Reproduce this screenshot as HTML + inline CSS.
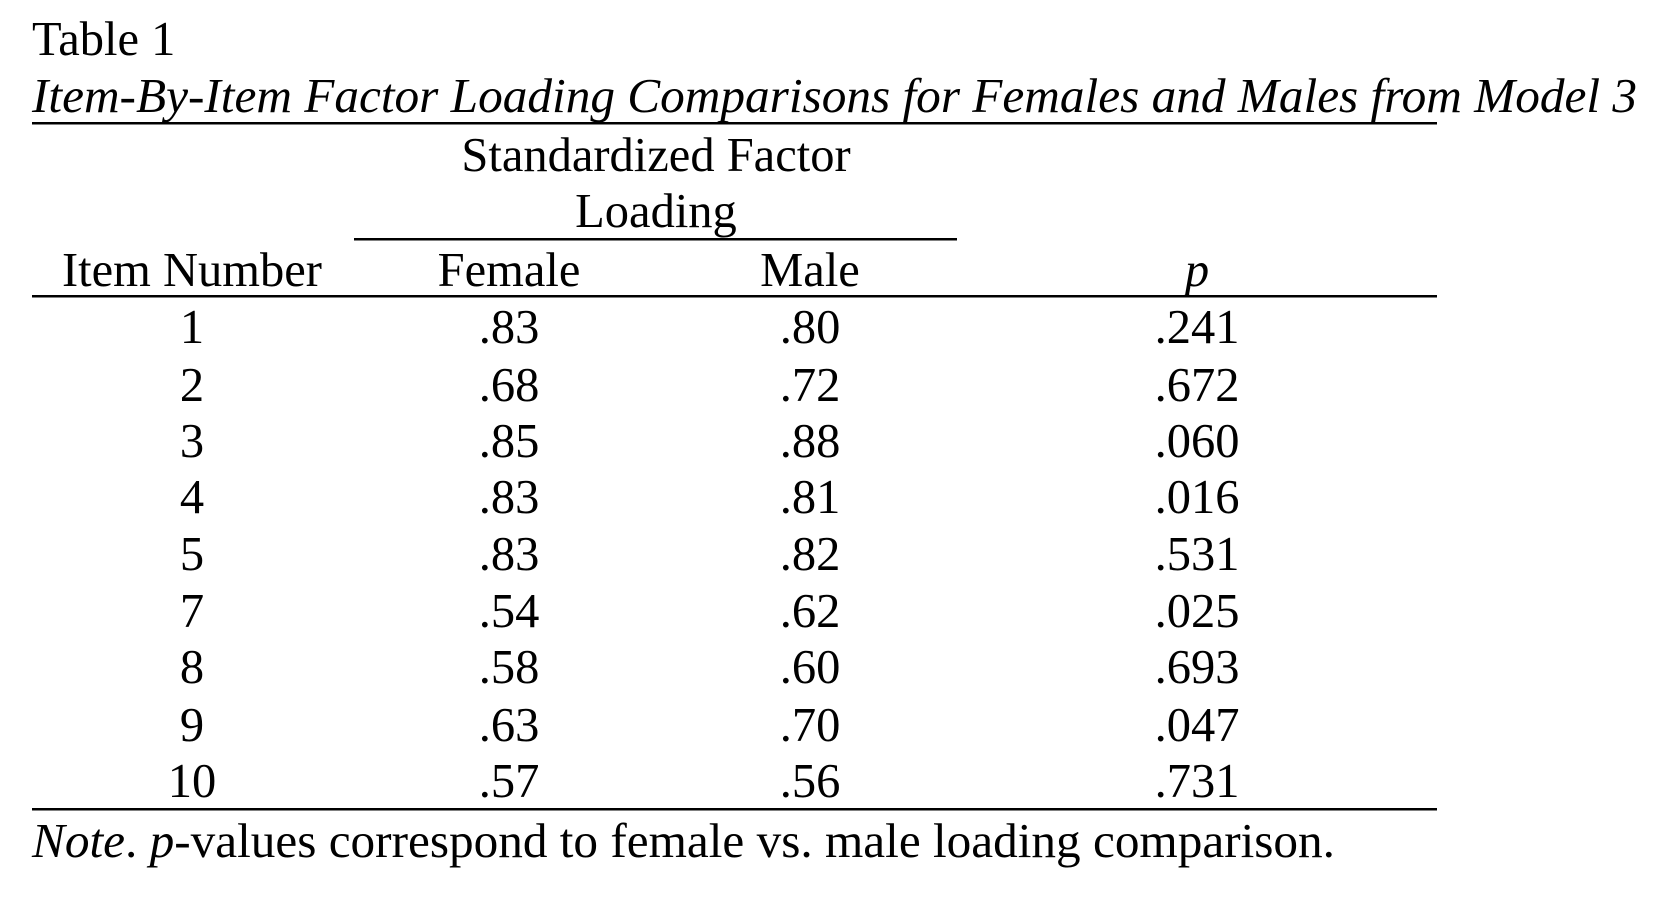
<!DOCTYPE html>
<html><head><meta charset="utf-8"><style>
html,body{margin:0;padding:0;background:#fff;}
svg{display:block;}
text{font-family:"Liberation Serif","Times New Roman",serif;font-size:48.5px;fill:#000;}
</style></head><body>
<svg width="1672" height="906" viewBox="0 0 1672 906" xmlns="http://www.w3.org/2000/svg">
<rect width="1672" height="906" fill="#fff"/>
<text x="32" y="55">Table 1</text>
<text x="32" y="112" font-style="italic" textLength="1605" lengthAdjust="spacingAndGlyphs">Item-By-Item Factor Loading Comparisons for Females and Males from Model 3</text>
<rect x="32" y="122" width="1405" height="2.5" fill="#000"/>
<g text-anchor="middle">
<text x="656" y="171">Standardized Factor</text>
<text x="656" y="227">Loading</text>
</g>
<rect x="354" y="238" width="603" height="2.5" fill="#000"/>
<g text-anchor="middle">
<text x="192" y="286">Item Number</text>
<text x="509" y="286">Female</text>
<text x="810" y="286">Male</text>
<text x="1197" y="286" font-style="italic">p</text>
</g>
<rect x="32" y="295" width="1405" height="2.5" fill="#000"/>
<g text-anchor="middle">
<text x="192" y="343">1</text><text x="509" y="343">.83</text><text x="810" y="343">.80</text><text x="1197" y="343">.241</text>
<text x="192" y="401">2</text><text x="509" y="401">.68</text><text x="810" y="401">.72</text><text x="1197" y="401">.672</text>
<text x="192" y="457">3</text><text x="509" y="457">.85</text><text x="810" y="457">.88</text><text x="1197" y="457">.060</text>
<text x="192" y="513">4</text><text x="509" y="513">.83</text><text x="810" y="513">.81</text><text x="1197" y="513">.016</text>
<text x="192" y="570">5</text><text x="509" y="570">.83</text><text x="810" y="570">.82</text><text x="1197" y="570">.531</text>
<text x="192" y="627">7</text><text x="509" y="627">.54</text><text x="810" y="627">.62</text><text x="1197" y="627">.025</text>
<text x="192" y="683">8</text><text x="509" y="683">.58</text><text x="810" y="683">.60</text><text x="1197" y="683">.693</text>
<text x="192" y="741">9</text><text x="509" y="741">.63</text><text x="810" y="741">.70</text><text x="1197" y="741">.047</text>
<text x="192" y="797">10</text><text x="509" y="797">.57</text><text x="810" y="797">.56</text><text x="1197" y="797">.731</text>
</g>
<rect x="32" y="808" width="1405" height="2.5" fill="#000"/>
<text x="32" y="857" textLength="1303" lengthAdjust="spacingAndGlyphs"><tspan font-style="italic">Note</tspan>. <tspan font-style="italic">p</tspan>-values correspond to female vs. male loading comparison.</text>
</svg>
</body></html>
